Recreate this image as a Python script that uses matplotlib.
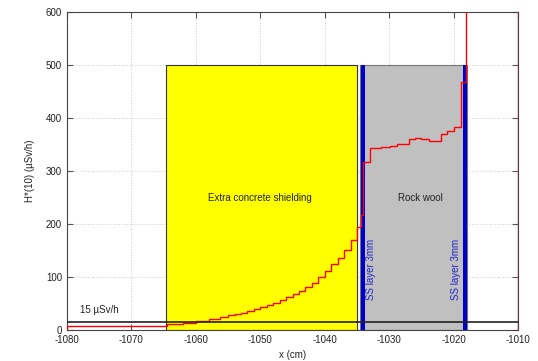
import matplotlib
matplotlib.use('Agg')
import matplotlib.pyplot as plt
from matplotlib.patches import Rectangle

plt.rcParams['font.family'] = ['Liberation Sans', 'DejaVu Sans']
plt.rcParams['axes.unicode_minus'] = False

# step edges (cm) and dose values (uSv/h)
edges = [-1080, -1064.5, -1062, -1060, -1058, -1056.3, -1055, -1054, -1053, -1052,
         -1051, -1050, -1049, -1048, -1047, -1046, -1045, -1044, -1043, -1042,
         -1041, -1040, -1039, -1038, -1037, -1036, -1035, -1034.4, -1034, -1033,
         -1031.2, -1029.9, -1028.8, -1027, -1026, -1025, -1023.9, -1021.9, -1021.1,
         -1020, -1018.9, -1018.1, -1010]
dose = [8, 11, 14, 17.6, 20.7, 24, 27.6, 29.5, 32.7, 35.8,
        39.6, 42.8, 47, 51.5, 56.6, 61.6, 67, 73.6, 80.5, 89,
        99, 112, 124, 136, 151, 170, 195, 217, 316, 343,
        344.5, 346.5, 351, 360, 363, 360, 357, 370, 376,
        382, 467, 2000]

limit = 15
concrete = (-1064.6, -1035.0)
wool = (-1034.5, -1018.0)
ss_layers = [(-1034.4, -1033.8), (-1018.6, -1018.0)]
box_top = 500

fig, ax = plt.subplots(figsize=(5.38, 3.61), dpi=100)
fig.subplots_adjust(left=0.1245, right=0.963, top=0.967, bottom=0.086)

ax.add_patch(Rectangle((concrete[0], 0), concrete[1] - concrete[0], box_top,
                       facecolor='#ffff00', edgecolor='#333333', linewidth=0.8, zorder=1))
ax.add_patch(Rectangle((wool[0], 0), wool[1] - wool[0], box_top,
                       facecolor='#c0c0c0', edgecolor='#777777', linewidth=0.8, zorder=1))
for x0, x1 in ss_layers:
    ax.add_patch(Rectangle((x0, 0), x1 - x0, box_top, facecolor='#0000cc',
                           edgecolor='none', zorder=2))

ax.stairs(dose, edges, color='red', linewidth=1, zorder=3)
ax.axhline(limit, color='#222222', linewidth=1.2, zorder=4)

txt = '#222222'
ax.text(-1078, 38, '15 µSv/h', fontsize=7, color=txt, ha='left', va='center')
ax.text(-1050, 249, 'Extra concrete shielding', fontsize=7, color=txt, ha='center', va='center')
ax.text(-1025.2, 249, 'Rock wool', fontsize=7, color=txt, ha='center', va='center')
ax.text(-1032.9, 115, 'SS layer 3mm', fontsize=7, color='#2222cc', rotation=90,
        ha='center', va='center')
ax.text(-1019.7, 115, 'SS layer 3mm', fontsize=7, color='#2222cc', rotation=90,
        ha='center', va='center')

ax.set_xlim(-1080, -1010)
ax.set_ylim(0, 600)
ax.set_xticks(range(-1080, -1009, 10))
ax.set_yticks(range(0, 601, 100))
ax.grid(True, color='#cccccc', linestyle=':', linewidth=0.7)
ax.set_axisbelow(True)
ax.tick_params(direction='in', top=True, right=True, labelsize=7, length=4,
               color='#555555', labelcolor=txt)
for s in ax.spines.values():
    s.set_color('#444444')
    s.set_linewidth(0.8)

ax.set_xlabel('x (cm)', fontsize=7, color=txt, labelpad=4)
ax.set_ylabel('H*(10) (µSv/h)', fontsize=7, color=txt, labelpad=8)

fig.savefig('out.png', dpi=100)
